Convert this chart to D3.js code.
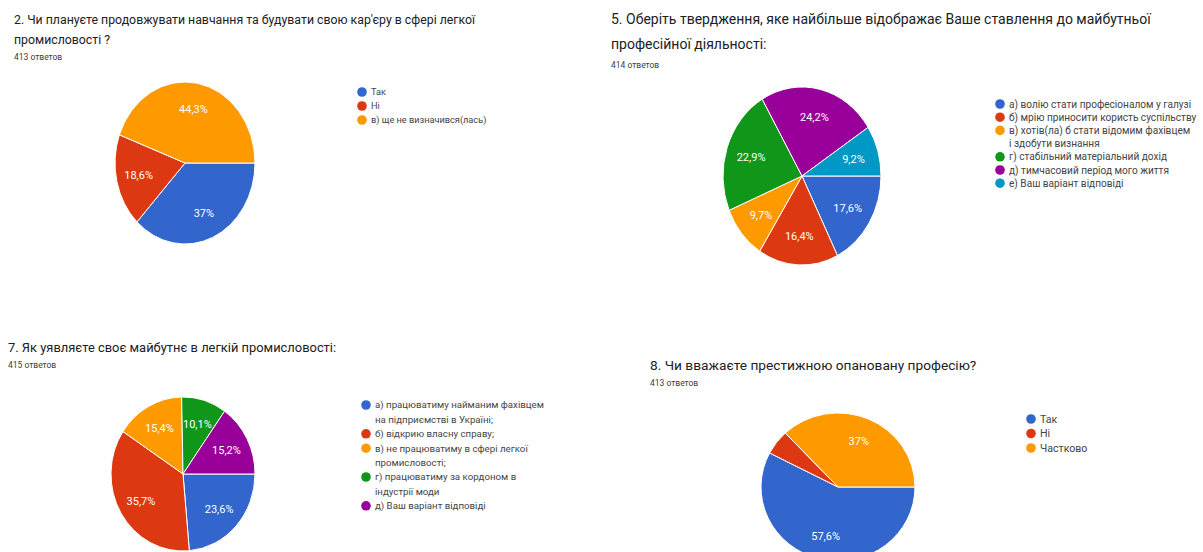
<!DOCTYPE html>
<html><head><meta charset="utf-8">
<script src="https://cdn.jsdelivr.net/npm/d3@7"></script>
<style>
html,body{margin:0;padding:0;background:#fff;}
svg{display:block;font-family:Roboto, Arial, sans-serif;}
</style></head>
<body>
<svg id="c" width="1203" height="552"></svg>
<script>
// ---------- data ----------
const colors = ["#3366cc","#dc3912","#ff9900","#109618","#990099","#0099c6"];

const q2Title = ["2. Чи плануєте продовжувати навчання та будувати свою кар'єру в сфері легкої", "промисловості ?"];
const q2Count = "413 ответов";
const q2Labels = [["Так"],["Ні"],["в) ще не визначився(лась)"]];
const q2Values = [37, 18.6, 44.3];

const q5Title = ["5. Оберіть твердження, яке найбільше відображає Ваше ставлення до майбутньої", "професійної діяльності:"];
const q5Count = "414 ответов";
const q5Labels = [["а) волію стати професіоналом у галузі"],["б) мрію приносити користь суспільству"],["в) хотів(ла) б стати відомим фахівцем","і здобути визнання"],["г) стабільний матеріальний дохід"],["д) тимчасовий період мого життя"],["е) Ваш варіант відповіді"]];
const q5Values = [17.6, 16.4, 9.7, 22.9, 24.2, 9.2];

const q7Title = ["7. Як уявляєте своє майбутнє в легкій промисловості:"];
const q7Count = "415 ответов";
const q7Labels = [["а) працюватиму найманим фахівцем","на підприємстві в Україні;"],["б) відкрию власну справу;"],["в) не працюватиму в сфері легкої","промисловості;"],["г) працюватиму за кордоном в","індустрії моди"],["д) Ваш варіант відповіді"]];
const q7Values = [23.6, 35.7, 15.4, 10.1, 15.2];

const q8Title = ["8. Чи вважаєте престижною опановану професію?"];
const q8Count = "413 ответов";
const q8Labels = [["Так"],["Ні"],["Частково"]];
const q8Values = [57.6, 5.4, 37];

// ---------- drawing ----------
const svg = d3.select("#c");
const fmt = v => (String(v).replace(".", ",")) + "%";

function chart(o){
  const g = svg.append("g");
  o.title.forEach((t,i)=>{
    g.append("text").attr("x",o.tx).attr("y",o.ty + i*o.tlh)
      .attr("font-size",o.tfs).attr("fill","#202124").text(t);
  });
  g.append("text").attr("x",o.tx).attr("y",o.sy)
    .attr("font-size",o.sfs).attr("fill","#3c4043").text(o.count);

  const total = d3.sum(o.values);
  const pie = d3.pie().sort(null).value(d=>d)
    .startAngle(Math.PI/2).endAngle(Math.PI/2 + 2*Math.PI);
  const arcs = pie(o.values);
  const R = 100;
  const arc = d3.arc().innerRadius(0).outerRadius(R);
  const sx = d3.scaleLinear().domain([0,R]).range([0,o.rx]);
  const sy = d3.scaleLinear().domain([0,R]).range([0,o.ry]);
  const pg = g.append("g").attr("transform",`translate(${o.cx},${o.cy}) scale(${o.rx/R},${o.ry/R})`);
  pg.selectAll("path").data(arcs).enter().append("path")
    .attr("d",arc).attr("fill",(d,i)=>colors[i])
    .attr("stroke","#fff").attr("stroke-width",1)
    .attr("vector-effect","non-scaling-stroke");
  const k = 0.68*R;
  g.selectAll("text.lbl").data(arcs.filter(d=>d.value/total>0.06)).enter().append("text")
    .attr("class","lbl")
    .attr("x",d=>{const m=(d.startAngle+d.endAngle)/2; return o.cx + sx(k*Math.sin(m));})
    .attr("y",d=>{const m=(d.startAngle+d.endAngle)/2; return o.cy - sy(k*Math.cos(m));})
    .attr("dy","0.35em").attr("text-anchor","middle")
    .attr("font-size",11).attr("fill","#fff").text(d=>fmt(d.data));

  let y = o.ly;
  o.labels.forEach((lines,i)=>{
    g.append("circle").attr("cx",o.lx).attr("cy",y).attr("r",4.8).attr("fill",colors[i]);
    lines.forEach((ln,j)=>{
      g.append("text").attr("x",o.lx+9).attr("y",y + j*o.llh).attr("dy","0.35em")
        .attr("font-size",o.lfs).attr("fill","#444").text(ln);
    });
    y += lines.length*o.llh;
  });
}

chart({title:q2Title,count:q2Count,labels:q2Labels,values:q2Values,
  tx:14,ty:24,tlh:20,tfs:12.3,sy:60,sfs:8.5,
  cx:185,cy:163,rx:70,ry:81,
  lx:362,ly:92,llh:14,lfs:9.2});

chart({title:q5Title,count:q5Count,labels:q5Labels,values:q5Values,
  tx:611,ty:24,tlh:25,tfs:14,sy:68,sfs:8.5,
  cx:802,cy:176,rx:79,ry:89,
  lx:1000,ly:104,llh:13.2,lfs:10.1});

chart({title:q7Title,count:q7Count,labels:q7Labels,values:q7Values,
  tx:8,ty:352,tlh:20,tfs:12.9,sy:368,sfs:8.5,
  cx:183,cy:474,rx:72,ry:77,
  lx:366,ly:405,llh:14.4,lfs:9.7});

chart({title:q8Title,count:q8Count,labels:q8Labels,values:q8Values,
  tx:650,ty:370,tlh:20,tfs:13.7,sy:386,sfs:8.5,
  cx:838,cy:487,rx:77,ry:74,
  lx:1031,ly:419,llh:14.5,lfs:10.6});
</script>
</body></html>
